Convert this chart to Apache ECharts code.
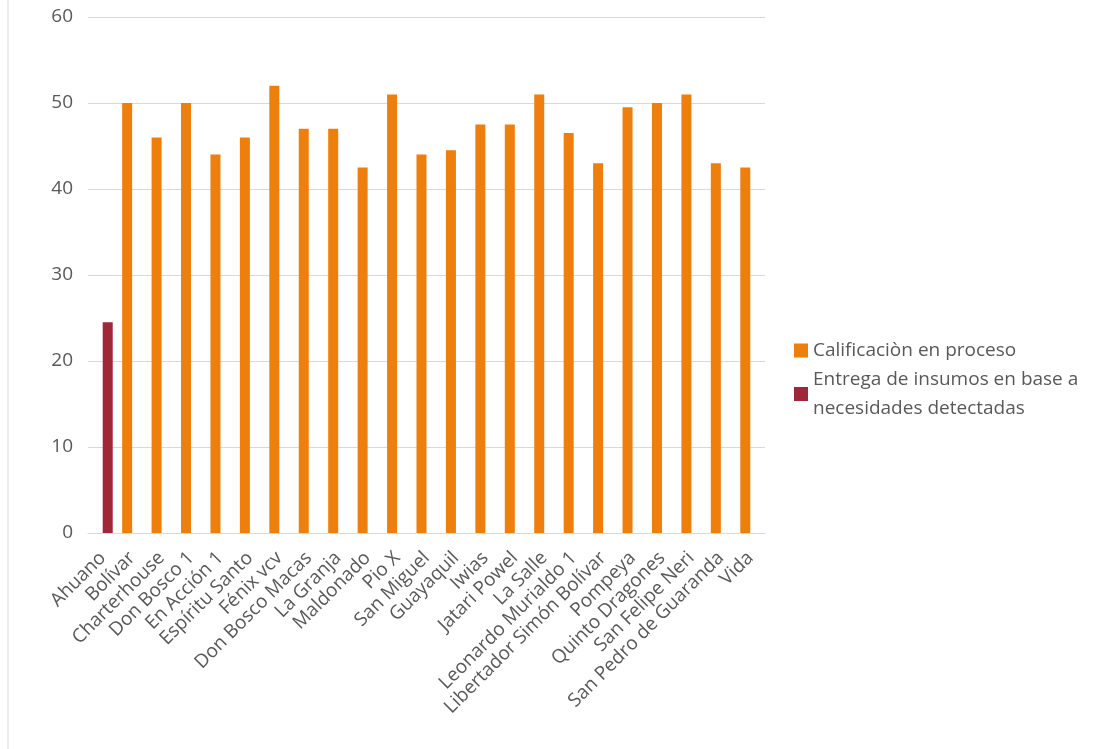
<!DOCTYPE html>
<html>
<head>
<meta charset="utf-8">
<script src="https://cdn.jsdelivr.net/npm/echarts@6/dist/echarts.min.js"></script>
<style>
html,body{margin:0;padding:0;background:#fff;}
#c{width:1102px;height:749px;}
</style>
</head>
<body>
<div id="c"></div>
<script>
const categories = ["Ahuano","Bolívar","Charterhouse","Don Bosco 1","En Acción 1","Espíritu Santo","Fénix vcv","Don Bosco Macas","La Granja","Maldonado","Pio X","San Miguel","Guayaquil","Iwias","Jatari Powel","La Salle","Leonardo Murialdo 1","Libertador Simón Bolívar","Pompeya","Quinto Dragones","San Felipe Neri","San Pedro de Guaranda","Vida"];
const seriesNames = ["Calificaciòn en proceso","Entrega de insumos en base a\nnecesidades detectadas"];
const calificacion = [null,50,46,50,44,46,52,47,47,42.5,51,44,44.5,47.5,47.5,51,46.5,43,49.5,50,51,43,42.5];
const entrega = [24.5,null,null,null,null,null,null,null,null,null,null,null,null,null,null,null,null,null,null,null,null,null,null];
const yTicks = {min:0,max:60,interval:10};

const font = "'Open Sans', 'Noto Sans', sans-serif";
const chart = echarts.init(document.getElementById('c'));
chart.setOption({
  animation:false,
  backgroundColor:'#fff',
  textStyle:{fontFamily:font},
  graphic:[{type:'line',shape:{x1:8,y1:0,x2:8,y2:749},style:{stroke:'#d9d9d9',lineWidth:1}}],
  grid:{left:88,right:337,top:17,bottom:216,containLabel:false},
  legend:{
    orient:'vertical',left:789,top:331,itemWidth:14,itemHeight:14,itemGap:0,icon:'rect',
    textStyle:{fontFamily:font,fontSize:19,color:'#595959',lineHeight:29},
    data:seriesNames
  },
  xAxis:{
    type:'category',data:categories,
    axisLine:{lineStyle:{color:'#d9d9d9'}},
    axisTick:{show:false},
    axisLabel:{rotate:45,interval:0,fontSize:19,color:'#595959',fontFamily:font,margin:22}
  },
  yAxis:{
    type:'value',min:yTicks.min,max:yTicks.max,interval:yTicks.interval,
    axisLine:{show:false},axisTick:{show:false},
    splitLine:{lineStyle:{color:'#d9d9d9'}},
    axisLabel:{fontSize:19,color:'#595959',fontFamily:font,margin:15}
  },
  series:[
    {name:seriesNames[0],type:'bar',data:calificacion,barWidth:10,barGap:'0%',itemStyle:{color:'#ee7f0d'}},
    {name:seriesNames[1],type:'bar',data:entrega,barWidth:10,barGap:'0%',itemStyle:{color:'#a0263a'}}
  ]
});
</script>
</body>
</html>
